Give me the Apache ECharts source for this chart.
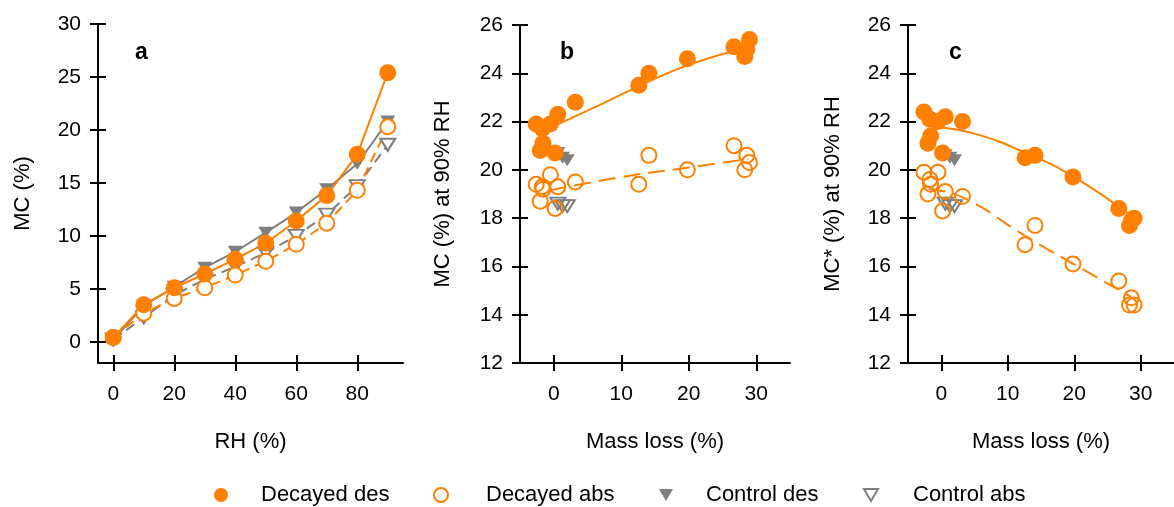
<!DOCTYPE html>
<html>
<head>
<meta charset="utf-8">
<script src="https://cdn.jsdelivr.net/npm/echarts@6.0.0/dist/echarts.min.js"></script>
<style>
  html, body { margin: 0; padding: 0; background: #fff; }
  #chart { width: 1174px; height: 507px; }
</style>
</head>
<body>
<div id="chart"></div>
<script>
// panel a: MC vs RH
var rhVals = [0, 10, 20, 30, 40, 50, 60, 70, 80, 90];
var aDecDes = [0.4, 3.5, 5.1, 6.4, 7.8, 9.3, 11.4, 13.8, 17.7, 25.4];
var aDecAbs = [0.4, 2.7, 4.1, 5.1, 6.3, 7.6, 9.2, 11.2, 14.3, 20.3];
var aConDes = [0.2, 3.4, 5.2, 7.0, 8.5, 10.3, 12.2, 14.4, 16.8, 20.8];
var aConAbs = [0.2, 2.3, 4.4, 5.9, 7.1, 8.4, 10.0, 12.0, 14.7, 18.6];

// panels b and c: decayed samples by mass loss
var massLoss = [-2.6, -2.0, -1.7, -1.6, -0.5, 0.2, 0.6, 3.2, 12.6, 14.1, 19.8, 26.7, 28.3, 28.6, 29.0];
var bDecDes = [21.9, 20.8, 21.7, 21.1, 21.9, 20.7, 22.3, 22.8, 23.5, 24.0, 24.6, 25.1, 24.7, 25.0, 25.4];
var bDecAbs = [19.4, 18.7, 19.3, 19.2, 19.8, 18.4, 19.3, 19.5, 19.4, 20.6, 20.0, 21.0, 20.0, 20.6, 20.3];
var cDecDes = [22.4, 21.1, 22.1, 21.4, 22.0, 20.7, 22.2, 22.0, 20.5, 20.6, 19.7, 18.4, 17.7, 17.9, 18.0];
var cDecAbs = [19.9, 19.0, 19.6, 19.4, 19.9, 18.3, 19.1, 18.9, 16.9, 17.7, 16.1, 15.4, 14.4, 14.7, 14.4];

// control samples
var conLoss = [0.6, 1.3, 2.0];
var bConDes = [20.7, 20.5, 20.4];
var bConAbs = [18.6, 18.5, 18.5];
var cConDes = [20.6, 20.5, 20.4];
var cConAbs = [18.6, 18.5, 18.5];

// fitted curves
var bDesFitX = [-0.5, 5, 12.5, 20, 28.5];
var bDesFitY = [21.75, 22.45, 23.45, 24.35, 25.05];
var bAbsFitX = [-0.6, 10, 20, 28.8];
var bAbsFitY = [19.15, 19.7, 20.1, 20.45];
var cDesFitX = [-0.9, 5, 12.7, 20, 28.5];
var cDesFitY = [21.78, 21.5, 20.7, 19.7, 18.1];
var cAbsFitX = [-1.9, 3.3, 12.7, 19.9, 28.5];
var cAbsFitY = [19.2, 18.85, 17.25, 16.1, 14.75];

// tick labels
var aXTicks = [0, 20, 40, 60, 80];
var aYTicks = [0, 5, 10, 15, 20, 25, 30];
var mlTicks = [0, 10, 20, 30];
var mcTicks = [12, 14, 16, 18, 20, 22, 24, 26];

var ORANGE = '#ff8000';
var GRAY = '#7f7f7f';
var FONT = 'Liberation Sans, Arial, sans-serif';

function zip(xs, ys) {
    var out = [];
    for (var i = 0; i < xs.length; i++) {
        out.push([xs[i], ys[i]]);
    }
    return out;
}

// main axis with line, labels and outside ticks
function mainAxis(grid, pos, min, max, ticks, name, nameGap) {
    return {
        type: 'value', gridIndex: grid, position: pos, min: min, max: max,
        name: name, nameLocation: 'middle', nameGap: nameGap,
        nameTextStyle: { fontSize: 22, color: '#000', fontFamily: FONT },
        axisLine: { show: true, onZero: false, lineStyle: { color: '#000', width: 2 } },
        axisTick: { show: true, inside: false, length: 8, customValues: ticks, lineStyle: { color: '#000', width: 2 } },
        axisLabel: { show: true, customValues: ticks, fontSize: 21, color: '#000', fontFamily: FONT, margin: (pos == 'left' ? 17 : 21) },
        splitLine: { show: false }
    };
}

// twin axis only for the inner half of the ticks
function innerAxis(grid, pos, min, max, ticks) {
    return {
        type: 'value', gridIndex: grid, position: pos, min: min, max: max,
        axisLine: { show: false, onZero: false },
        axisTick: { show: true, inside: true, length: 8, customValues: ticks, lineStyle: { color: '#000', width: 2 } },
        axisLabel: { show: false },
        splitLine: { show: false }
    };
}

function lineSeries(name, data, color, filled, tri, dashed) {
    return {
        name: name, type: 'line', xAxisIndex: 0, yAxisIndex: 0, data: data,
        symbol: tri ? 'triangle' : 'circle',
        symbolRotate: tri ? 180 : 0,
        symbolSize: tri ? [15, 12] : (filled ? 17 : 15),
        itemStyle: { color: filled ? color : '#fff', borderColor: color, borderWidth: filled ? 0 : 2, opacity: 1 },
        lineStyle: { color: color, width: 2, type: dashed ? [10, 6] : 'solid' },
        emphasis: { disabled: true }
    };
}

function scatterSeries(name, data, axis, color, filled, tri) {
    return {
        name: name, type: 'scatter', xAxisIndex: axis, yAxisIndex: axis, data: data,
        symbol: tri ? 'triangle' : 'circle',
        symbolRotate: tri ? 180 : 0,
        symbolSize: tri ? [15, 12] : (filled ? 17 : 15),
        itemStyle: { color: filled ? color : 'rgba(255,255,255,0)', borderColor: color, borderWidth: filled ? 0 : 2, opacity: 1 },
        emphasis: { disabled: true }
    };
}

function fitSeries(data, axis, dashed) {
    return {
        name: 'fit', type: 'line', xAxisIndex: axis, yAxisIndex: axis, data: data,
        smooth: true, showSymbol: false, silent: true,
        lineStyle: { color: ORANGE, width: 2, type: dashed ? [17, 8] : 'solid' }
    };
}

function legendItem(left, pad, name, icon, style) {
    return {
        left: left, top: 479, itemWidth: 14, itemHeight: 14,
        data: [{ name: name, icon: icon, itemStyle: style }],
        textStyle: { fontSize: 22, color: '#000', fontFamily: FONT, padding: [0, 0, 0, pad] }
    };
}

var triPath = 'path://M0,0L14,0L7,12Z';

var option = {
    animation: false,
    backgroundColor: '#fff',
    textStyle: { fontFamily: FONT },
    title: [
        { text: 'a', left: 130, top: 36, textStyle: { fontSize: 23, fontWeight: 'bold', color: '#000' } },
        { text: 'b', left: 555, top: 36, textStyle: { fontSize: 23, fontWeight: 'bold', color: '#000' } },
        { text: 'c', left: 944, top: 36, textStyle: { fontSize: 23, fontWeight: 'bold', color: '#000' } }
    ],
    grid: [
        { left: 98, top: 24, width: 305, height: 339 },
        { left: 520, top: 25, width: 270, height: 338 },
        { left: 908, top: 25, width: 270, height: 338 }
    ],
    xAxis: [
        mainAxis(0, 'bottom', -5, 95, aXTicks, 'RH (%)', 68),
        innerAxis(0, 'bottom', -5, 95, aXTicks),
        mainAxis(1, 'bottom', -5, 35, mlTicks, 'Mass loss (%)', 68),
        innerAxis(1, 'bottom', -5, 35, mlTicks),
        mainAxis(2, 'bottom', -5, 35, mlTicks, 'Mass loss (%)', 68),
        innerAxis(2, 'bottom', -5, 35, mlTicks)
    ],
    yAxis: [
        mainAxis(0, 'left', -2, 30, aYTicks, 'MC (%)', 64),
        innerAxis(0, 'left', -2, 30, aYTicks),
        mainAxis(1, 'left', 12, 26, mcTicks, 'MC (%) at 90% RH', 66),
        innerAxis(1, 'left', 12, 26, mcTicks),
        mainAxis(2, 'left', 12, 26, mcTicks, 'MC* (%) at 90% RH', 64),
        innerAxis(2, 'left', 12, 26, mcTicks)
    ],
    legend: [
        legendItem(209, 28, 'Decayed des', 'circle', { color: ORANGE, borderWidth: 0 }),
        legendItem(428, 33, 'Decayed abs', 'circle', { color: '#fff', borderColor: ORANGE, borderWidth: 2 }),
        legendItem(654, 28, 'Control des', triPath, { color: GRAY, borderWidth: 0 }),
        legendItem(858, 30, 'Control abs', triPath, { color: '#fff', borderColor: GRAY, borderWidth: 2 })
    ],
    series: [
        lineSeries('Control abs', zip(rhVals, aConAbs), GRAY, false, true, true),
        lineSeries('Control des', zip(rhVals, aConDes), GRAY, true, true, false),
        lineSeries('Decayed abs', zip(rhVals, aDecAbs), ORANGE, false, false, true),
        lineSeries('Decayed des', zip(rhVals, aDecDes), ORANGE, true, false, false),

        fitSeries(zip(bDesFitX, bDesFitY), 2, false),
        fitSeries(zip(bAbsFitX, bAbsFitY), 2, true),
        scatterSeries('Control abs', zip(conLoss, bConAbs), 2, GRAY, false, true),
        scatterSeries('Control des', zip(conLoss, bConDes), 2, GRAY, true, true),
        scatterSeries('Decayed abs', zip(massLoss, bDecAbs), 2, ORANGE, false, false),
        scatterSeries('Decayed des', zip(massLoss, bDecDes), 2, ORANGE, true, false),

        fitSeries(zip(cDesFitX, cDesFitY), 4, false),
        fitSeries(zip(cAbsFitX, cAbsFitY), 4, true),
        scatterSeries('Control abs', zip(conLoss, cConAbs), 4, GRAY, false, true),
        scatterSeries('Control des', zip(conLoss, cConDes), 4, GRAY, true, true),
        scatterSeries('Decayed abs', zip(massLoss, cDecAbs), 4, ORANGE, false, false),
        scatterSeries('Decayed des', zip(massLoss, cDecDes), 4, ORANGE, true, false)
    ]
};

var myChart = echarts.init(document.getElementById('chart'), null, { renderer: 'canvas' });
myChart.setOption(option);
</script>
</body>
</html>
